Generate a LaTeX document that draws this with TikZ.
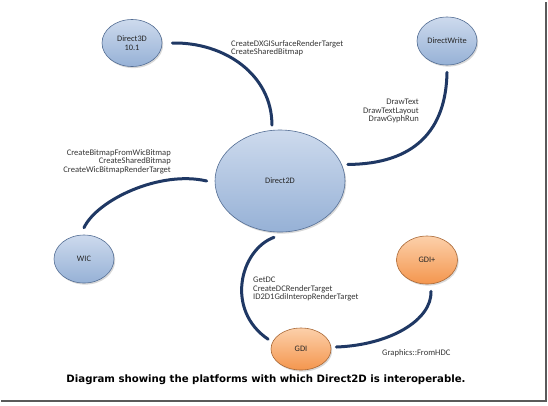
\documentclass[tikz,border=0pt]{standalone}
\usepackage{fontspec}
\setmainfont{Carlito}
\newfontfamily\capfont{DejaVu Sans}
\usetikzlibrary{shapes.geometric,shadows}
\definecolor{bluetop}{RGB}{205,218,237}
\definecolor{bluebot}{RGB}{150,177,214}
\definecolor{blueedge}{RGB}{84,110,148}
\definecolor{orgtop}{RGB}{252,208,170}
\definecolor{orgbot}{RGB}{244,150,78}
\definecolor{orgedge}{RGB}{170,105,55}
\definecolor{navy}{RGB}{31,56,100}
\definecolor{labelgray}{RGB}{55,55,55}
\definecolor{framegray}{RGB}{90,90,90}
\begin{document}
\begin{tikzpicture}[x=1bp,y=-1bp,
  platform/.style={ellipse, draw=blueedge, line width=0.6bp, top color=bluetop, bottom color=bluebot,
    inner sep=0pt, font=\fontsize{8.4}{8.4}\selectfont, text=black!85, align=center,
    drop shadow={shadow xshift=1.2bp, shadow yshift=-1.6bp, opacity=0.3}},
  blueplat/.style={platform},
  orangeplat/.style={platform, draw=orgedge, top color=orgtop, bottom color=orgbot},
  conn/.style={draw=navy, line width=3bp, line cap=round},
  lbl/.style={font=\fontsize{8.6}{8.5}\selectfont, text=labelgray, inner sep=0pt}]
\useasboundingbox (0,0) rectangle (548,405);
\fill[white] (0,0) rectangle (548,405);
\draw[framegray, line width=2bp] (1,401) -- (546,401) -- (546,2);

\node[blueplat, minimum width=60bp, minimum height=47bp] (d3d) at (132,43) {Direct3D\\10.1};
\node[blueplat, minimum width=60bp, minimum height=48bp] (dw) at (447,41) {DirectWrite};
\node[blueplat, minimum width=130bp, minimum height=102bp] (d2d) at (280,181) {Direct2D};
\node[blueplat, minimum width=60bp, minimum height=48bp] (wic) at (84,259) {WIC};
\node[orangeplat, minimum width=61bp, minimum height=48bp] (gdip) at (427,260) {GDI+};
\node[orangeplat, minimum width=60bp, minimum height=42bp] (gdi) at (301,349) {GDI};

\draw[conn] ([xshift=10bp]d3d.east) .. controls (225,42) and (272,75) .. ([yshift=5bp]d2d.99);
\draw[conn] ([yshift=-7bp]dw.south) .. controls (446,130) and (415,164) .. ([xshift=6bp]d2d.15);
\draw[conn] ([yshift=7bp]wic.north) .. controls (97,200) and (160,170) .. ([xshift=-8bp]d2d.west);
\draw[conn] ([shift={(-6bp,-5bp)}]d2d.south) .. controls (240,250) and (225,310) .. ([xshift=-6bp]gdi.160);
\draw[conn] ([shift={(5bp,2bp)}]gdi.east) .. controls (390,345) and (432,320) .. ([shift={(4bp,-7bp)}]gdip.south);

\node[lbl, anchor=north west, align=left] (l1) at (231,40) {CreateDXGISurfaceRenderTarget\\CreateSharedBitmap};
\node[lbl, anchor=north east, align=right] (l2) at (419,99) {DrawText\\DrawTextLayout\\DrawGyphRun};
\node[lbl, anchor=north east, align=right] (l3) at (171,149) {CreateBitmapFromWicBitmap\\CreateSharedBitmap\\CreateWicBitmapRenderTarget};
\node[lbl, anchor=north west, align=left] (l4) at (253,277) {GetDC\\CreateDCRenderTarget\\ID2D1GdiInteropRenderTarget};
\node[lbl, anchor=west] (l5) at (382,353) {Graphics::FromHDC};

\node[font=\capfont\bfseries\fontsize{10.2}{12}\selectfont, inner sep=0pt] (cap) at (266,380) {Diagram showing the platforms with which Direct2D is interoperable.};
\end{tikzpicture}
\end{document}
